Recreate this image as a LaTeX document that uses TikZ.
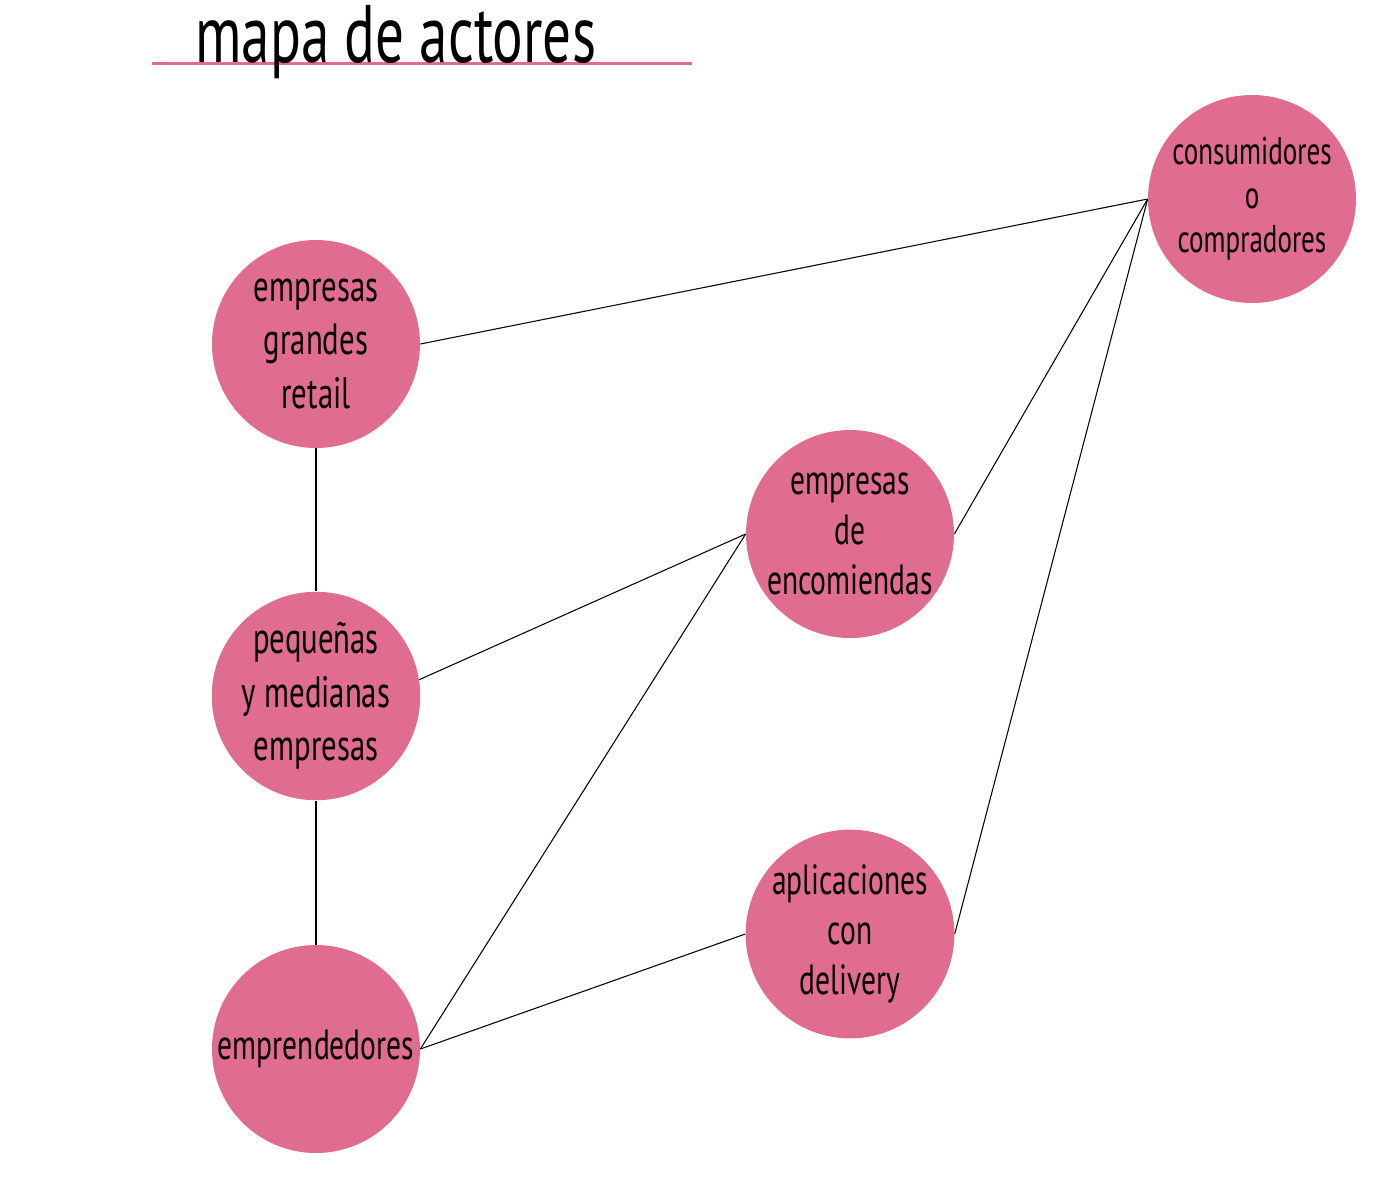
\documentclass[tikz,border=0pt]{standalone}
\usepackage{fontspec}
\setmainfont[FakeStretch=0.7]{PT Sans}
\definecolor{actorpink}{RGB}{224,108,143}
\tikzset{
  actor/.style={circle, fill=actorpink, minimum size=4.16cm, inner sep=0pt, align=center},
  bigtext/.style={font=\fontsize{25}{30.5}\selectfont},
  midtext/.style={font=\fontsize{24}{28.6}\selectfont},
  smalltext/.style={font=\fontsize{22}{25}\selectfont},
  link/.style={draw=black, line width=0.6pt}
}
\begin{document}
\begin{tikzpicture}[x=0.2mm,y=-0.2mm]
        % Draw page frame
        \useasboundingbox (0,0) rectangle (1398,1186);
        % Draw title and underline
        \draw[actorpink, line width=1.7pt] (152,63) -- (692,63);
        \node[anchor=base west, inner sep=0pt, font=\fontsize{46.5}{50}\selectfont] (title) at (195,62) {mapa de actores};
        % Draw actors
        \node[actor, smalltext] (consumidores) at (1252,199) {consumidores\\o\\compradores};
        \node[actor, bigtext] (retail) at (316,344) {empresas\\grandes\\retail};
        \node[actor, bigtext] (pymes) at (316,696) {pequeñas\\y medianas\\empresas};
        \node[actor, font=\fontsize{24}{30}\selectfont] (emprendedores) at (316,1049) {emprendedores};
        \node[actor, midtext] (encomiendas) at (850,534) {empresas\\de\\encomiendas};
        \node[actor, midtext] (delivery) at (850,934) {aplicaciones\\con\\delivery};
        % Draw links
        \draw[link] (retail.east) -- (consumidores.west);
        \draw[link] (encomiendas.east) -- (consumidores.west);
        \draw[link] (delivery.east) -- (consumidores.west);
        \draw[link] (retail.south) -- (pymes.north);
        \draw[link] (pymes.south) -- (emprendedores.north);
        \draw[link] (pymes.9) -- (encomiendas.west);
        \draw[link] (emprendedores.east) -- (encomiendas.west);
        \draw[link] (emprendedores.east) -- (delivery.west);
\end{tikzpicture}
\end{document}
